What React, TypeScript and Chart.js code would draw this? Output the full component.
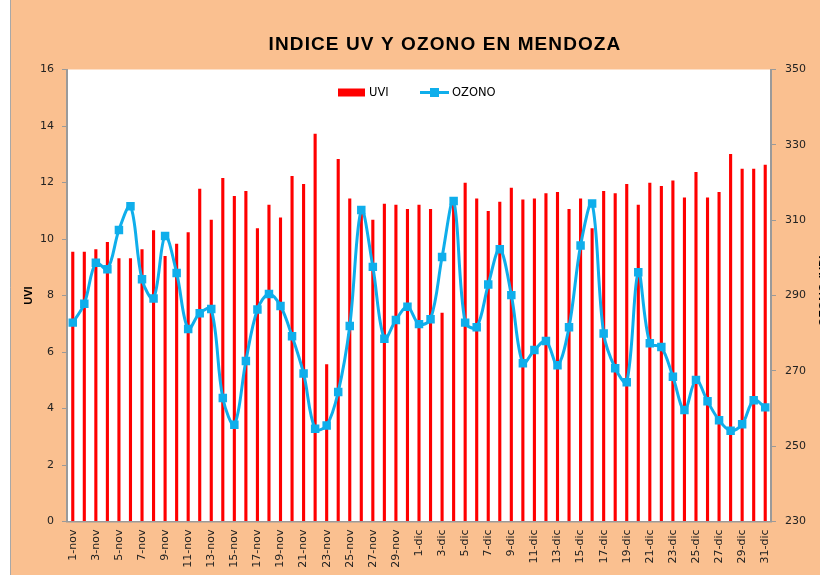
import React, { useEffect, useRef } from "react";
import { Chart, registerables } from "chart.js";

Chart.register(...registerables);

const TITLE = "INDICE UV Y OZONO EN MENDOZA";
const LEFT_TITLE = "UVI";
const RIGHT_TITLE = "OZONO (UD)";
const SERIES_NAMES = ["UVI", "OZONO"];

const categories = [
  "1-nov", "2-nov", "3-nov", "4-nov", "5-nov", "6-nov", "7-nov", "8-nov", "9-nov", "10-nov",
  "11-nov", "12-nov", "13-nov", "14-nov", "15-nov", "16-nov", "17-nov", "18-nov", "19-nov", "20-nov",
  "21-nov", "22-nov", "23-nov", "24-nov", "25-nov", "26-nov", "27-nov", "28-nov", "29-nov", "30-nov",
  "1-dic", "2-dic", "3-dic", "4-dic", "5-dic", "6-dic", "7-dic", "8-dic", "9-dic", "10-dic",
  "11-dic", "12-dic", "13-dic", "14-dic", "15-dic", "16-dic", "17-dic", "18-dic", "19-dic", "20-dic",
  "21-dic", "22-dic", "23-dic", "24-dic", "25-dic", "26-dic", "27-dic", "28-dic", "29-dic", "30-dic",
  "31-dic",
];

const uviValues = [
  9.55, 9.55, 9.64, 9.89, 9.32, 9.32, 9.64, 10.31, 9.4, 9.83,
  10.24, 11.78, 10.68, 12.16, 11.52, 11.7, 10.38, 11.21, 10.76, 12.23,
  11.95, 13.73, 5.57, 12.83, 11.43, 11.1, 10.68, 11.25, 11.21, 11.06,
  11.21, 11.06, 7.39, 11.3, 11.99, 11.43, 10.99, 11.32, 11.81, 11.4,
  11.43, 11.62, 11.66, 11.06, 11.43, 10.38, 11.7, 11.62, 11.95, 11.21,
  11.99, 11.88, 12.07, 11.47, 12.37, 11.47, 11.66, 13.01, 12.49, 12.49,
  12.63,
];

const ozoneValues = [
  282.8, 287.8, 298.7, 297.0, 307.4, 313.7, 294.3, 289.2, 305.8, 296.0,
  281.1, 285.3, 286.4, 262.8, 255.7, 272.6, 286.3, 290.4, 287.2, 279.2,
  269.3, 254.6, 255.5, 264.4, 281.9, 312.7, 297.6, 278.5, 283.5, 287.0,
  282.4, 283.7, 300.2, 315.1, 282.8, 281.6, 292.9, 302.3, 290.1, 272.0,
  275.5, 277.9, 271.5, 281.6, 303.3, 314.4, 279.9, 270.7, 267.0, 296.2,
  277.3, 276.3, 268.4, 259.6, 267.6, 261.9, 256.9, 254.1, 255.8, 262.2,
  260.3,
];

const uviAxisRange = [0, 16];
const uviAxisStep = 2;
const ozoneAxisRange = [230, 350];
const ozoneAxisStep = 20;

const RED = "#FF0000";
const BLUE = "#0FAEEB";
const PEACH = "#FAC090";
const AXIS_GRAY = "#9A9A9A";
const TEXT = "#222222";
const TICK_FONT = { family: '"DejaVu Sans", Verdana, sans-serif', size: 11 };

const W = 820;
const H = 575;

const decorPlugin = {
  id: "decor",
  beforeDraw(chart: any) {
    const { ctx, chartArea: a } = chart;
    ctx.save();
    ctx.fillStyle = "#FFFFFF";
    ctx.fillRect(0, 0, chart.width, chart.height);
    ctx.fillStyle = PEACH;
    ctx.fillRect(10, 0, chart.width - 10, chart.height);
    ctx.strokeStyle = "#A8A8A8";
    ctx.lineWidth = 1;
    ctx.beginPath();
    ctx.moveTo(10.5, 0);
    ctx.lineTo(10.5, chart.height);
    ctx.stroke();
    ctx.fillStyle = "#FFFFFF";
    ctx.fillRect(a.left, a.top, a.right - a.left, a.bottom - a.top);
    ctx.restore();
  },
  afterDraw(chart: any) {
    const { ctx, chartArea: a } = chart;
    ctx.save();
    // Title
    ctx.fillStyle = "#000000";
    ctx.font = 'bold 19px "Liberation Sans", Arial, sans-serif';
    try { (ctx as any).letterSpacing = "1.1px"; } catch (e) {}
    ctx.textAlign = "center";
    ctx.textBaseline = "alphabetic";
    ctx.fillText(TITLE, 445, 50);
    try { (ctx as any).letterSpacing = "0px"; } catch (e) {}

    // Legend
    const ly = a.top + 23;
    ctx.fillStyle = RED;
    ctx.fillRect(338, ly - 4, 27, 8);
    ctx.fillStyle = "#000000";
    ctx.font = '11.5px "DejaVu Sans", Verdana, sans-serif';
    ctx.textAlign = "left";
    ctx.textBaseline = "middle";
    ctx.fillText(SERIES_NAMES[0], 369, ly + 0.5);
    ctx.strokeStyle = BLUE;
    ctx.lineWidth = 3;
    ctx.beginPath();
    ctx.moveTo(420, ly);
    ctx.lineTo(449, ly);
    ctx.stroke();
    ctx.fillStyle = BLUE;
    ctx.fillRect(430, ly - 4.5, 9, 9);
    ctx.fillStyle = "#000000";
    ctx.fillText(SERIES_NAMES[1], 452, ly + 0.5);

    // Axis titles
    ctx.font = 'bold 11px "Liberation Sans", Arial, sans-serif';
    ctx.textAlign = "center";
    ctx.textBaseline = "middle";
    ctx.save();
    ctx.translate(28.5, (a.top + a.bottom) / 2);
    ctx.rotate(-Math.PI / 2);
    ctx.fillText(LEFT_TITLE, 0, 0);
    ctx.restore();
    ctx.save();
    ctx.font = 'bold 12px "Liberation Sans", Arial, sans-serif';
    ctx.translate(824.5, (a.top + a.bottom) / 2 - 5);
    ctx.rotate(-Math.PI / 2);
    ctx.fillText(RIGHT_TITLE, 0, 0);
    ctx.restore();
    ctx.restore();
  },
};

export default function App() {
  const canvasRef = useRef<HTMLCanvasElement | null>(null);

  useEffect(() => {
    const canvas = canvasRef.current;
    if (!canvas) return;
    const chart = new Chart(canvas, {
      type: "bar",
      data: {
        labels: categories,
        datasets: [
          {
            type: "line",
            label: SERIES_NAMES[1],
            data: ozoneValues,
            yAxisID: "y1",
            borderColor: BLUE,
            backgroundColor: BLUE,
            borderWidth: 3,
            tension: 0.35,
            pointStyle: "rect",
            pointRadius: 6,
            pointBorderWidth: 0,
            pointBackgroundColor: BLUE,
            order: 0,
          } as any,
          {
            type: "bar",
            label: SERIES_NAMES[0],
            data: uviValues,
            yAxisID: "y",
            backgroundColor: RED,
            borderWidth: 0,
            barPercentage: 0.27,
            categoryPercentage: 1,
            order: 1,
          } as any,
        ],
      },
      options: {
        responsive: false,
        animation: false,
        devicePixelRatio: 1,
        layout: { padding: { top: 69.5, left: 0, right: 0, bottom: 0 } },
        plugins: {
          legend: { display: false },
          title: { display: false },
          tooltip: { enabled: false },
        },
        scales: {
          x: {
            type: "category",
            offset: true,
            grid: { display: false, drawTicks: false },
            border: { display: true, color: AXIS_GRAY, width: 1.5 },
            ticks: {
              autoSkip: false,
              minRotation: 90,
              maxRotation: 90,
              padding: 8,
              color: TEXT,
              font: TICK_FONT,
              callback: (_v: any, i: number) => (i % 2 === 0 ? categories[i] : ""),
            },
            afterFit: (s: any) => {
              s.height = H - 521.5;
            },
          },
          y: {
            position: "left",
            min: uviAxisRange[0],
            max: uviAxisRange[1],
            grid: {
              display: true,
              drawOnChartArea: false,
              drawTicks: true,
              tickLength: 5,
              color: AXIS_GRAY,
            },
            border: { display: true, color: AXIS_GRAY, width: 2 },
            ticks: { stepSize: uviAxisStep, padding: 8, color: TEXT, font: TICK_FONT },
            afterFit: (s: any) => {
              s.width = 67;
            },
          },
          y1: {
            position: "right",
            min: ozoneAxisRange[0],
            max: ozoneAxisRange[1],
            grid: {
              display: true,
              drawOnChartArea: false,
              drawTicks: true,
              tickLength: 5,
              color: AXIS_GRAY,
            },
            border: { display: true, color: AXIS_GRAY, width: 2 },
            ticks: { stepSize: ozoneAxisStep, padding: 9, color: TEXT, font: TICK_FONT },
            afterFit: (s: any) => {
              s.width = W - 771;
            },
          },
        },
      } as any,
      plugins: [decorPlugin],
    });
    return () => chart.destroy();
  }, []);

  return (
    <div
      style={{
        position: "fixed",
        left: 0,
        top: 0,
        width: W,
        height: H,
        overflow: "hidden",
        background: "#FFFFFF",
      }}
    >
      <canvas ref={canvasRef} width={W} height={H} style={{ display: "block", width: W, height: H }} />
    </div>
  );
}
